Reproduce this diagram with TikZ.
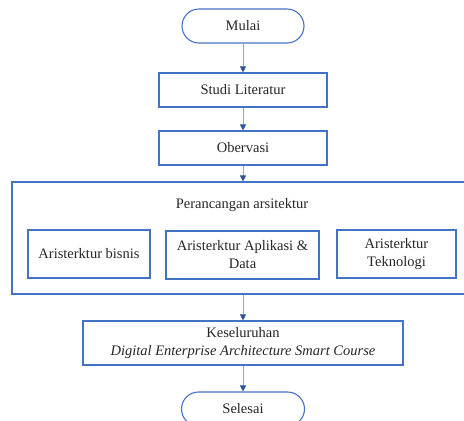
\documentclass[tikz,border=0pt]{standalone}
\usepackage{fontspec}
\setmainfont{Liberation Serif}
\usetikzlibrary{arrows.meta}
\definecolor{boxblue}{RGB}{68,114,196}
\definecolor{lineblue}{RGB}{140,168,218}
\definecolor{arrowblue}{RGB}{47,85,151}

\begin{document}
\begin{tikzpicture}[x=1pt,y=-1pt,
        every node/.style={font=\fontsize{14.5}{18}\selectfont,text=black!85},
        kotak/.style={draw=boxblue,line width=1.1pt,align=center,inner sep=0pt},
        terminal/.style={kotak,rounded corners=17pt,minimum width=122pt,minimum height=34pt},
        panah/.style={draw=lineblue,line width=1pt,-{Triangle[width=6pt,length=6pt,color=arrowblue]}}]
    \useasboundingbox (0,0) rectangle (464,421);
    \clip (0,0) rectangle (464,421);
    \node[terminal] (mulai) at (243,26) {Mulai};
    \node[kotak,minimum width=168pt,minimum height=34pt] (studi) at (243,90) {Studi Literatur};
    \node[kotak,minimum width=168pt,minimum height=34pt] (observasi) at (243,148) {Obervasi};
    \node[kotak,minimum width=462pt,minimum height=112pt] (rancang) at (243,238) {};
    \node[] (judul) at (242,205) {Perancangan arsitektur};
    \node[kotak,minimum width=122pt,minimum height=48pt] (bisnis) at (89,254) {Aristerktur bisnis};
    \node[kotak,minimum width=153pt,minimum height=48pt] (aplikasi) at (242.5,255) {Aristerktur Aplikasi \&\\Data};
    \node[kotak,minimum width=119pt,minimum height=48pt] (teknologi) at (396.5,254) {Aristerktur\\Teknologi};
    \node[kotak,minimum width=320pt,minimum height=44pt] (hasil) at (243,343) {Keseluruhan\\\textit{Digital Enterprise Architecture Smart Course}};
    \node[terminal,minimum width=123pt] (selesai) at (243,409) {Selesai};
    \draw[panah] (mulai) -- (studi);
    \draw[panah] (studi) -- (observasi);
    \draw[panah] (observasi) -- (rancang.north);
    \draw[panah] (rancang.south) -- (hasil);
    \draw[panah] (hasil) -- (selesai);
\end{tikzpicture}
\end{document}
